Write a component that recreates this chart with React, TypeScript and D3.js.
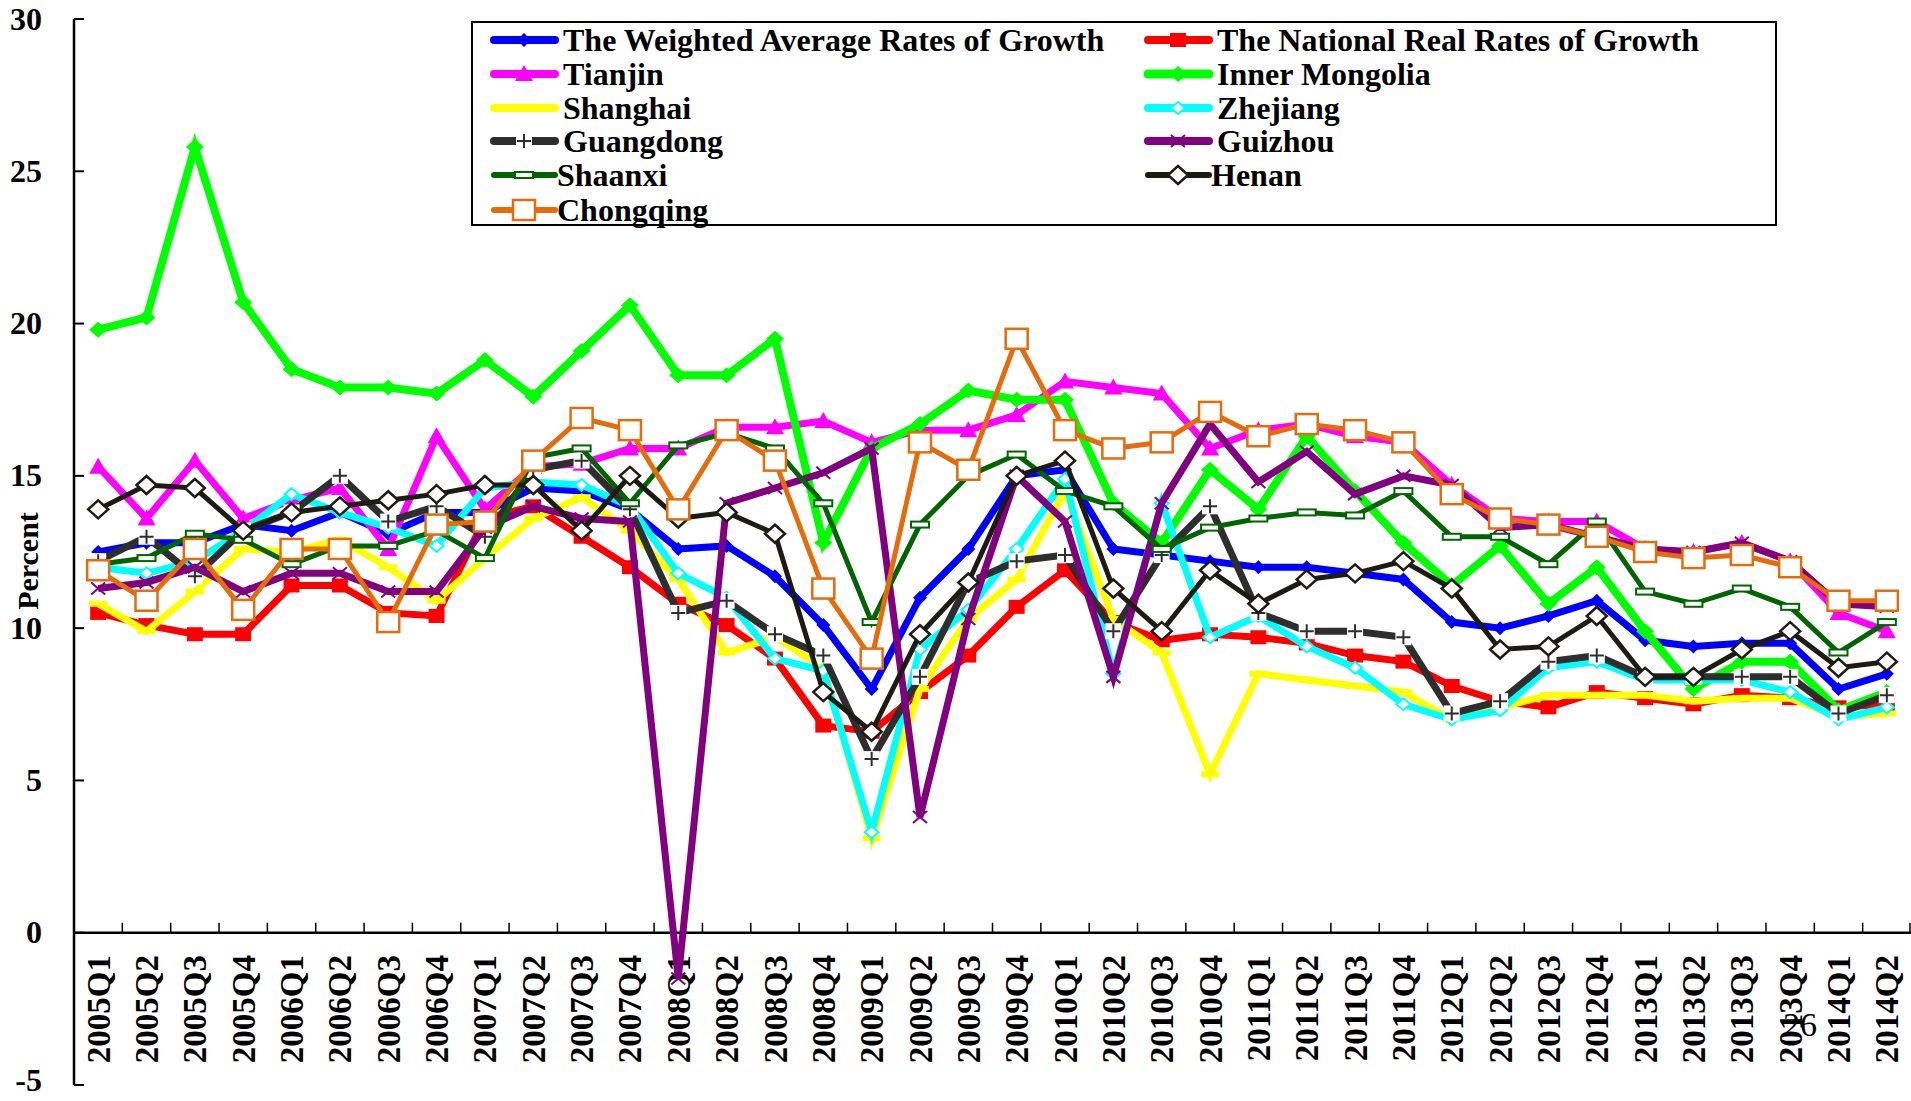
import React from "react";
import * as d3 from "d3";

const quarters = [
  "2005Q1", "2005Q2", "2005Q3", "2005Q4", "2006Q1", "2006Q2", "2006Q3", "2006Q4",
  "2007Q1", "2007Q2", "2007Q3", "2007Q4", "2008Q1", "2008Q2", "2008Q3", "2008Q4",
  "2009Q1", "2009Q2", "2009Q3", "2009Q4", "2010Q1", "2010Q2", "2010Q3", "2010Q4",
  "2011Q1", "2011Q2", "2011Q3", "2011Q4", "2012Q1", "2012Q2", "2012Q3", "2012Q4",
  "2013Q1", "2013Q2", "2013Q3", "2013Q4", "2014Q1", "2014Q2",
];

const yTicks = [-5, 0, 5, 10, 15, 20, 25, 30];

const weighted = [12.5, 12.8, 12.8, 13.4, 13.2, 13.8, 13.1, 13.8, 13.8, 14.6, 14.5, 13.9, 12.6, 12.7, 11.7, 10.1, 8.0, 11.0, 12.6, 15.0, 15.2, 12.6, 12.4, 12.2, 12.0, 12.0, 11.8, 11.6, 10.2, 10.0, 10.4, 10.9, 9.6, 9.4, 9.5, 9.5, 8.0, 8.5];
const national = [10.5, 10.1, 9.8, 9.8, 11.4, 11.4, 10.5, 10.4, 13.6, 14.0, 13.0, 12.0, 10.8, 10.1, 9.0, 6.8, 6.6, 7.9, 9.1, 10.7, 11.9, 10.2, 9.6, 9.8, 9.7, 9.5, 9.1, 8.9, 8.1, 7.6, 7.4, 7.9, 7.7, 7.5, 7.8, 7.7, 7.4, 7.5];
const tianjin = [15.3, 13.6, 15.5, 13.6, 14.2, 14.6, 12.6, 16.3, 13.9, 15.3, 15.4, 15.9, 15.9, 16.6, 16.6, 16.8, 16.1, 16.5, 16.5, 17.0, 18.1, 17.9, 17.7, 15.9, 16.5, 16.7, 16.3, 16.1, 14.7, 13.6, 13.5, 13.5, 12.6, 12.5, 12.8, 12.2, 10.5, 9.9];
const innerMongolia = [19.8, 20.2, 25.8, 20.7, 18.5, 17.9, 17.9, 17.7, 18.8, 17.6, 19.1, 20.6, 18.3, 18.3, 19.5, 12.8, 15.9, 16.7, 17.8, 17.5, 17.5, 14.1, 12.8, 15.2, 13.9, 16.3, 14.5, 12.8, 11.4, 12.7, 10.8, 12.0, 9.9, 8.0, 8.9, 8.9, 7.3, 7.9];
const shanghai = [10.8, 9.9, 11.2, 12.6, 12.5, 12.9, 12.0, 10.9, 12.3, 13.6, 14.3, 13.2, 11.6, 9.2, 9.7, 8.7, 3.1, 8.0, 10.3, 11.6, 14.5, 10.3, 9.2, 5.2, 8.5, 8.3, 8.1, 7.9, 7.0, 7.4, 7.8, 7.8, 7.8, 7.6, 7.7, 7.7, 7.1, 7.2];
const zhejiang = [12.0, 11.8, 12.2, 13.2, 14.4, 13.8, 13.3, 12.7, 14.6, 14.8, 14.7, 14.0, 11.8, 11.0, 9.0, 8.6, 3.3, 9.3, 10.6, 12.6, 14.9, 8.5, 14.1, 9.7, 10.4, 9.4, 8.7, 7.5, 7.0, 7.3, 8.7, 8.9, 8.3, 8.3, 8.3, 7.9, 7.0, 7.4];
const guangdong = [12.2, 13.0, 11.7, 13.2, 13.8, 15.0, 13.5, 14.0, 13.0, 15.2, 15.5, 13.9, 10.5, 10.9, 9.8, 9.1, 5.7, 8.4, 11.5, 12.2, 12.4, 9.9, 12.4, 14.0, 10.5, 9.9, 9.9, 9.7, 7.2, 7.6, 8.9, 9.1, 8.4, 8.4, 8.4, 8.4, 7.2, 7.8];
const guizhou = [11.3, 11.5, 12.0, 11.2, 11.8, 11.8, 11.2, 11.2, 13.3, 14.0, 13.6, 13.5, -1.5, 14.1, 14.6, 15.1, 15.9, 3.8, 10.3, 15.0, 13.5, 8.4, 14.1, 16.7, 14.8, 15.8, 14.4, 15.0, 14.7, 13.3, 13.4, 13.0, 12.6, 12.5, 12.8, 12.2, 10.8, 10.7];
const shaanxi = [12.1, 12.3, 13.1, 12.9, 12.1, 12.7, 12.7, 13.2, 12.3, 15.6, 15.9, 14.1, 16.0, 16.4, 15.9, 14.1, 10.2, 13.4, 15.0, 15.7, 14.5, 14.0, 12.6, 13.3, 13.6, 13.8, 13.7, 14.5, 13.0, 13.0, 12.1, 13.5, 11.2, 10.8, 11.3, 10.7, 9.2, 10.2];
const henan = [13.9, 14.7, 14.6, 13.2, 13.8, 14.0, 14.2, 14.4, 14.7, 14.7, 13.2, 15.0, 13.6, 13.8, 13.1, 7.9, 6.6, 9.8, 11.5, 15.0, 15.5, 11.3, 9.9, 11.9, 10.8, 11.6, 11.8, 12.2, 11.3, 9.3, 9.4, 10.4, 8.4, 8.4, 9.3, 9.9, 8.7, 8.9];
const chongqing = [11.9, 10.9, 12.6, 10.6, 12.6, 12.6, 10.2, 13.4, 13.5, 15.5, 16.9, 16.5, 13.9, 16.5, 15.5, 11.3, 9.0, 16.1, 15.2, 19.5, 16.5, 15.9, 16.1, 17.1, 16.3, 16.7, 16.5, 16.1, 14.4, 13.6, 13.4, 13.0, 12.5, 12.3, 12.4, 12.0, 10.9, 10.9];

// drawing order = legend order (later series sit on top)
const series = [
  { name: "The Weighted Average Rates of Growth", values: weighted, color: "#0000FF", width: 7, marker: "diamond", textShift: 0 },
  { name: "The National Real Rates of Growth", values: national, color: "#FF0000", width: 7, marker: "square", textShift: 0 },
  { name: "Tianjin", values: tianjin, color: "#FF00FF", width: 7, marker: "triangle", textShift: 0 },
  { name: "Inner Mongolia", values: innerMongolia, color: "#00FF00", width: 8, marker: "diamondBig", textShift: 0 },
  { name: "Shanghai", values: shanghai, color: "#FFFF00", width: 7, marker: "bar", textShift: 0 },
  { name: "Zhejiang", values: zhejiang, color: "#00FFFF", width: 7, marker: "openDiamond", textShift: 0 },
  { name: "Guangdong", values: guangdong, color: "#2E2E2E", width: 7, marker: "plus", textShift: 0 },
  { name: "Guizhou", values: guizhou, color: "#800080", width: 7, marker: "cross", textShift: 0 },
  { name: "Shaanxi", values: shaanxi, color: "#006400", width: 5, marker: "minus", textShift: -6 },
  { name: "Henan", values: henan, color: "#1E1C12", width: 5, marker: "henan", textShift: -6 },
  { name: "Chongqing", values: chongqing, color: "#E46C0A", width: 5, marker: "openSquare", textShift: -6 },
];

const W = 1911;
const H = 1101;
const left = 74;
const right = 1911;
const top = 19;
const bottom = 1085;
const font = "'Liberation Serif', 'Times New Roman', serif";

function Marker({ type, color, x, y }) {
  const t = `translate(${x},${y})`;
  switch (type) {
    case "diamond":
      return <path transform={t} d="M0,-7L7,0L0,7L-7,0Z" fill={color} />;
    case "diamondBig":
      return <path transform={t} d="M0,-8L9,0L0,8L-9,0Z" fill={color} />;
    case "square":
      return <rect transform={t} x={-8} y={-7} width={16} height={14} fill={color} />;
    case "triangle":
      return <path transform={t} d="M0,-9L9,7L-9,7Z" fill={color} />;
    case "bar":
      return <rect transform={t} x={-9} y={-3} width={18} height={6} fill={color} />;
    case "openDiamond":
      return <path transform={t} d="M0,-6L7,0L0,6L-7,0Z" fill="#fff" stroke={color} strokeWidth={2} />;
    case "plus":
      return (
        <g transform={t}>
          <rect x={-8} y={-8} width={16} height={16} fill="#fff" />
          <path d="M-7,0H7M0,-7V7" stroke={color} strokeWidth={2} />
        </g>
      );
    case "cross":
      return <path transform={t} d="M-7,-6L7,6M-7,6L7,-6" stroke={color} strokeWidth={2} />;
    case "minus":
      return <rect transform={t} x={-9} y={-3} width={18} height={6} fill="#fff" stroke={color} strokeWidth={2} />;
    case "henan":
      return <path transform={t} d="M0,-9L10,0L0,9L-10,0Z" fill="#fff" stroke={color} strokeWidth={2.5} />;
    case "openSquare":
      return <rect transform={t} x={-11} y={-10} width={22} height={20} fill="#fff" stroke={color} strokeWidth={2.5} />;
    default:
      return null;
  }
}

export default function App() {
  const x = d3.scaleBand().domain(quarters).range([left, right]).padding(0);
  const cx = (q) => x(q) + x.bandwidth() / 2;
  const y = d3.scaleLinear().domain([-5, 30]).range([bottom, top]);
  const line = d3
    .line()
    .x((d, i) => cx(quarters[i]))
    .y((d) => y(d));

  // legend layout: two columns, rows of 34px
  const legendRows = [40, 74, 108, 141, 175, 210];
  const legendCols = [494, 1148];

  return (
    <svg
      width={W}
      height={H}
      style={{ position: "absolute", left: 0, top: 0, background: "#fff" }}
      fontFamily={font}
      fontWeight="bold"
    >
      <rect width={W} height={H} fill="#fff" />

      {/* y axis */}
      <line x1={left} x2={left} y1={y(30)} y2={y(-5)} stroke="#000" strokeWidth={2.5} />
      {yTicks.map((t) => (
        <g key={t}>
          <line x1={left} x2={left + 10} y1={y(t)} y2={y(t)} stroke="#000" strokeWidth={2} />
          <text x={42} y={Math.min(y(t), 1080)} dy="0.33em" textAnchor="end" fontSize={32}>
            {t}
          </text>
        </g>
      ))}
      <text
        transform={`translate(27,561) rotate(-90)`}
        textAnchor="middle"
        dy="0.35em"
        fontSize={30}
      >
        Percent
      </text>

      {/* x axis at zero */}
      <line x1={left} x2={right} y1={y(0)} y2={y(0)} stroke="#000" strokeWidth={2.5} />
      {quarters.slice(1).map((q) => (
        <line key={q} x1={x(q)} x2={x(q)} y1={y(0)} y2={y(0) - 10} stroke="#000" strokeWidth={1.5} />
      ))}
      <line x1={right - 1} x2={right - 1} y1={y(0)} y2={y(0) - 10} stroke="#000" strokeWidth={1.5} />
      {quarters.map((q) => (
        <text
          key={q}
          transform={`translate(${cx(q)},955) rotate(-90)`}
          textAnchor="end"
          dy="0.35em"
          fontSize={33}
        >
          {q}
        </text>
      ))}

      {/* series */}
      {series.map((s) => (
        <g key={s.name}>
          <path d={line(s.values)} fill="none" stroke={s.color} strokeWidth={s.width} strokeLinejoin="miter" />
          {s.values.map((v, i) => (
            <Marker key={i} type={s.marker} color={s.color} x={cx(quarters[i])} y={y(v)} />
          ))}
        </g>
      ))}

      {/* legend */}
      <rect x={472} y={22} width={1304} height={203} fill="#fff" stroke="#000" strokeWidth={2} />
      {series.map((s, i) => {
        const col = i === series.length - 1 ? 0 : i % 2;
        const row = Math.floor(i / 2);
        const lx = legendCols[col];
        const ly = legendRows[row];
        return (
          <g key={s.name}>
            <line x1={lx} x2={lx + 61} y1={ly} y2={ly} stroke={s.color} strokeWidth={s.width + 1} strokeLinecap="round" />
            {s.marker !== "bar" && <Marker type={s.marker} color={s.color} x={lx + 30} y={ly} />}
            <text x={lx + 69 + s.textShift} y={ly} dy="0.33em" fontSize={32}>
              {s.name}
            </text>
          </g>
        );
      })}

      {/* stray page number from the source slide */}
      <text x={1783} y={1036} fontSize={34} fontWeight="normal">
        26
      </text>
    </svg>
  );
}
